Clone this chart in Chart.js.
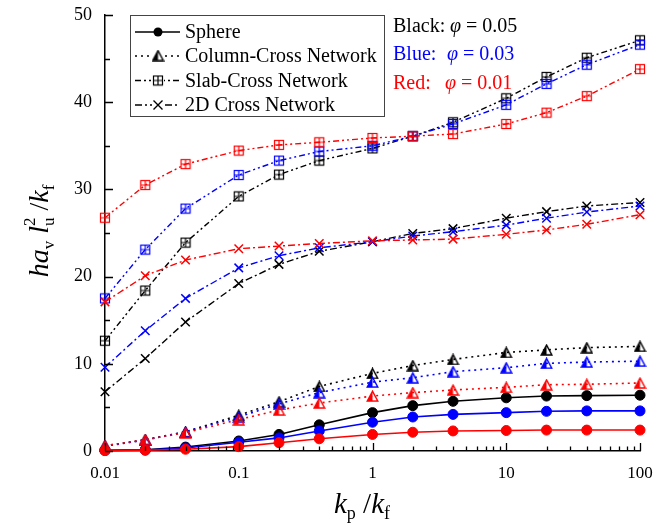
<!DOCTYPE html>
<html>
<head>
<meta charset="utf-8">
<script src="https://cdn.jsdelivr.net/npm/chart.js@4.4.1/dist/chart.umd.min.js"></script>
<style>
  body { margin: 0; background: #fff; }
  #wrap { width: 670px; height: 526px; position: relative; }
</style>
</head>
<body>
<div id="wrap"><canvas id="chart"></canvas></div>
<script>
// x values (kp/kf)
const kRatio = [0.01, 0.02, 0.04, 0.1, 0.2, 0.4, 1, 2, 4, 10, 20, 40, 100];

// Sphere
const sphere05 = [0.08, 0.15, 0.45, 1.15, 1.9, 3.0, 4.4, 5.2, 5.7, 6.1, 6.3, 6.35, 6.4];
const sphere03 = [0.06, 0.12, 0.35, 1.0, 1.5, 2.3, 3.3, 3.9, 4.2, 4.4, 4.55, 4.6, 4.6];
const sphere01 = [0.04, 0.08, 0.2, 0.5, 0.95, 1.4, 1.9, 2.15, 2.3, 2.35, 2.4, 2.4, 2.4];
// Column-Cross Network
const column05 = [0.6, 1.3, 2.2, 4.1, 5.65, 7.4, 8.9, 9.8, 10.5, 11.3, 11.6, 11.85, 12.0];
const column03 = [0.55, 1.25, 2.2, 3.9, 5.4, 6.7, 7.9, 8.4, 9.1, 9.55, 10.05, 10.2, 10.3];
const column01 = [0.6, 1.3, 2.1, 3.6, 4.7, 5.5, 6.3, 6.7, 7.0, 7.3, 7.6, 7.65, 7.8];
// Slab-Cross Network
const slab05 = [12.65, 18.4, 23.9, 29.2, 31.7, 33.3, 34.7, 36.1, 37.7, 40.45, 42.9, 45.1, 47.1];
const slab03 = [17.5, 23.1, 27.8, 31.65, 33.3, 34.35, 35.0, 36.1, 37.5, 39.7, 42.1, 44.3, 46.6];
const slab01 = [26.75, 30.5, 32.9, 34.45, 35.1, 35.4, 35.9, 36.1, 36.35, 37.5, 38.8, 40.7, 43.8];
// 2D Cross Network
const cross05 = [6.8, 10.6, 14.8, 19.2, 21.4, 22.9, 24.0, 24.95, 25.5, 26.7, 27.45, 28.1, 28.5];
const cross03 = [9.6, 13.8, 17.5, 21.0, 22.4, 23.3, 24.0, 24.65, 25.15, 25.9, 26.7, 27.4, 28.1];
const cross01 = [17.1, 20.1, 21.9, 23.2, 23.5, 23.8, 24.1, 24.2, 24.3, 24.85, 25.35, 26.0, 27.1];

const xTickLabels = [0.01, 0.1, 1, 10, 100];
const yTickLabels = [0, 10, 20, 30, 40, 50];
const legendNames = ['Sphere', 'Column-Cross Network', 'Slab-Cross Network', '2D Cross Network'];

const BLACK = '#000000', BLUE = '#0000ff', RED = '#ff0000';
const SERIF = '"Liberation Serif", "Times New Roman", serif';

// marker images
function triangleMarker(color) {
  const c = document.createElement('canvas');
  c.width = 13; c.height = 12;
  const g = c.getContext('2d');
  g.fillStyle = color; g.strokeStyle = color; g.lineWidth = 1.4;
  g.beginPath(); g.moveTo(6.5, 1.5); g.lineTo(6.5, 11); g.lineTo(1.2, 11); g.closePath(); g.fill();
  g.beginPath(); g.moveTo(6.5, 1.2); g.lineTo(11.8, 11); g.lineTo(1.2, 11); g.closePath(); g.stroke();
  return c;
}
function gridSquareMarker(color) {
  const c = document.createElement('canvas');
  c.width = 12; c.height = 12;
  const g = c.getContext('2d');
  g.strokeStyle = color; g.lineWidth = 1.2;
  g.strokeRect(1.5, 1.5, 9, 9);
  g.beginPath(); g.moveTo(6, 1.5); g.lineTo(6, 10.5); g.moveTo(1.5, 6); g.lineTo(10.5, 6); g.stroke();
  return c;
}

const DASH_COL = [2, 4];
const DASH_SLAB = [6, 3, 2, 3, 2, 3];
const DASH_2D = [7, 3, 2, 3];

function pts(arr) { return kRatio.map((k, i) => ({ x: k, y: arr[i] })); }

function sphereSet(arr, color) {
  return { data: pts(arr), borderColor: color, backgroundColor: color, borderWidth: 1.6,
    pointStyle: 'circle', pointRadius: 5, pointBorderWidth: 1, pointBackgroundColor: color, pointBorderColor: color };
}
function columnSet(arr, color) {
  return { data: pts(arr), borderColor: color, borderWidth: 1.6, borderDash: DASH_COL,
    pointStyle: triangleMarker(color), pointRadius: 6 };
}
function slabSet(arr, color) {
  return { data: pts(arr), borderColor: color, borderWidth: 1.4, borderDash: DASH_SLAB,
    pointStyle: gridSquareMarker(color), pointRadius: 6 };
}
function crossSet(arr, color) {
  return { data: pts(arr), borderColor: color, borderWidth: 1.4, borderDash: DASH_2D,
    pointStyle: 'crossRot', pointRadius: 6, pointBorderWidth: 1.5, pointBorderColor: color };
}

// draw text runs: [text, kind] kind: 'i' italic, 'r' roman, 'sub', 'ss' (sub|sup stacked)
function drawRuns(ctx, runs, x, y, size) {
  let cx = x;
  const subSize = Math.round(size * 0.62);
  runs.forEach(([t, kind]) => {
    if (kind === 'i' || kind === 'r') {
      ctx.font = (kind === 'i' ? 'italic ' : '') + size + 'px ' + SERIF;
      ctx.fillText(t, cx, y);
      cx += ctx.measureText(t).width;
    } else if (kind === 'sub') {
      ctx.font = subSize + 'px ' + SERIF;
      ctx.fillText(t, cx, y + size * 0.22);
      cx += ctx.measureText(t).width;
    } else if (kind === 'ss') {
      const [sb, sp] = t.split('|');
      ctx.font = subSize + 'px ' + SERIF;
      ctx.fillText(sb, cx, y + size * 0.22);
      ctx.fillText(sp, cx, y - size * 0.45);
      cx += Math.max(ctx.measureText(sb).width, ctx.measureText(sp).width);
    }
  });
  return cx - x;
}
function runsWidth(ctx, runs, size) {
  ctx.save();
  ctx.globalAlpha = 0;
  const w = drawRuns(ctx, runs, 0, 0, size);
  ctx.restore();
  return w;
}

const decorPlugin = {
  id: 'decor',
  afterDraw(chart) {
    const ctx = chart.ctx;
    const xs = chart.scales.x, ys = chart.scales.y;
    const area = chart.chartArea;
    ctx.save();
    ctx.strokeStyle = '#000'; ctx.lineWidth = 1.3; ctx.setLineDash([]);
    // x ticks (inward)
    ctx.beginPath();
    xTickLabels.forEach((d, i) => {
      const px = Math.round(xs.getPixelForValue(d)) + 0.5;
      ctx.moveTo(px, area.bottom); ctx.lineTo(px, area.bottom - 8);
      if (i < xTickLabels.length - 1) {
        for (let m = 2; m <= 9; m++) {
          const mx = Math.round(xs.getPixelForValue(d * m)) + 0.5;
          ctx.moveTo(mx, area.bottom); ctx.lineTo(mx, area.bottom - 4.5);
        }
      }
    });
    // y ticks (inward)
    for (let v = 0; v <= 50; v += 5) {
      const py = Math.round(ys.getPixelForValue(v)) + 0.5;
      ctx.moveTo(area.left, py); ctx.lineTo(area.left + (v % 10 === 0 ? 8 : 5), py);
    }
    ctx.stroke();

    // axis titles
    ctx.fillStyle = '#000';
    ctx.textBaseline = 'alphabetic';
    ctx.textAlign = 'left';
    const xTitle = [['k', 'i'], ['p', 'sub'], [' /', 'r'], ['k', 'i'], ['f', 'sub']];
    const xw = runsWidth(ctx, xTitle, 29);
    drawRuns(ctx, xTitle, 362 - xw / 2, 513, 29);

    const yTitle = [['h', 'i'], ['a', 'i'], ['v', 'sub'], [' l', 'i'], ['u|2', 'ss'], [' /', 'r'], ['k', 'i'], ['f', 'sub']];
    const yw = runsWidth(ctx, yTitle, 28);
    ctx.save();
    ctx.translate(48, 231);
    ctx.rotate(-Math.PI / 2);
    drawRuns(ctx, yTitle, -yw / 2, 0, 28);
    ctx.restore();

    // legend box
    ctx.strokeStyle = '#444'; ctx.lineWidth = 1;
    ctx.strokeRect(130.5, 15.5, 254, 101);
    const rows = [32, 56, 80.5, 105];
    const dashes = [[], DASH_COL, DASH_SLAB, DASH_2D];
    rows.forEach((ry, i) => {
      ctx.strokeStyle = '#000'; ctx.lineWidth = 1.4;
      ctx.setLineDash(dashes[i]);
      ctx.beginPath(); ctx.moveTo(135, ry); ctx.lineTo(180, ry); ctx.stroke();
      ctx.setLineDash([]);
      if (i === 0) {
        ctx.fillStyle = '#000';
        ctx.beginPath(); ctx.arc(158, ry, 4.5, 0, Math.PI * 2); ctx.fill();
      } else if (i === 1) {
        const m = triangleMarker('#000');
        ctx.fillStyle = '#fff'; ctx.fillRect(152, ry - 6, 13, 12);
        ctx.drawImage(m, 151.5, ry - 6.5);
      } else if (i === 2) {
        const m = gridSquareMarker('#000');
        ctx.fillStyle = '#fff'; ctx.fillRect(152, ry - 6, 12, 12);
        ctx.drawImage(m, 152, ry - 6);
      } else {
        ctx.fillStyle = '#fff'; ctx.fillRect(152, ry - 6, 12, 12);
        ctx.beginPath();
        ctx.moveTo(153.5, ry - 4.5); ctx.lineTo(162.5, ry + 4.5);
        ctx.moveTo(162.5, ry - 4.5); ctx.lineTo(153.5, ry + 4.5);
        ctx.stroke();
      }
      ctx.fillStyle = '#000';
      ctx.font = '20px ' + SERIF;
      ctx.textBaseline = 'middle';
      ctx.fillText(legendNames[i], 185, ry + 1);
    });

    // phi annotations
    ctx.textBaseline = 'alphabetic';
    const notes = [['Black:', '0.05', BLACK, 32, 450], ['Blue:', '0.03', BLUE, 60, 447], ['Red:', '0.01', RED, 89, 445]];
    notes.forEach(([name, val, col, by, phiX]) => {
      ctx.fillStyle = col;
      ctx.font = '20px ' + SERIF;
      ctx.fillText(name, 393, by);
      ctx.font = 'italic 20px ' + SERIF;
      ctx.fillText('\u03C6', phiX, by);
      const pw = ctx.measureText('\u03C6').width;
      ctx.font = '20px ' + SERIF;
      ctx.fillText(' = ' + val, phiX + pw, by);
    });
    ctx.restore();
  }
};

new Chart(document.getElementById('chart'), {
  type: 'line',
  data: {
    datasets: [
      sphereSet(sphere01, RED), columnSet(column01, RED), slabSet(slab01, RED), crossSet(cross01, RED),
      sphereSet(sphere03, BLUE), columnSet(column03, BLUE), slabSet(slab03, BLUE), crossSet(cross03, BLUE),
      sphereSet(sphere05, BLACK), columnSet(column05, BLACK), slabSet(slab05, BLACK), crossSet(cross05, BLACK)
    ]
  },
  options: {
    responsive: true,
    maintainAspectRatio: false,
    animation: false,
    clip: false,
    layout: { padding: { left: 0, top: 15, right: 30, bottom: 0 } },
    plugins: { legend: { display: false }, tooltip: { enabled: false } },
    scales: {
      x: {
        type: 'logarithmic',
        min: 0.01,
        max: 100,
        afterBuildTicks: axis => { axis.ticks = xTickLabels.map(v => ({ value: v })); },
        afterFit: scale => { scale.height = 75; scale.paddingLeft = 0; scale.paddingRight = 0; },
        grid: { display: false, drawTicks: false },
        border: { display: true, color: '#000', width: 1.5 },
        ticks: {
          autoSkip: false, maxRotation: 0, padding: 12, color: '#000',
          font: { family: SERIF, size: 17 },
          callback: v => String(v)
        }
      },
      y: {
        min: 0,
        max: 50,
        afterBuildTicks: axis => { axis.ticks = yTickLabels.map(v => ({ value: v })); },
        afterFit: scale => { scale.width = 105; scale.paddingTop = 0; scale.paddingBottom = 0; },
        grid: { display: false, drawTicks: false },
        border: { display: true, color: '#000', width: 1.5 },
        ticks: {
          padding: 13, color: '#000',
          font: { family: SERIF, size: 18 }
        }
      }
    }
  },
  plugins: [decorPlugin]
});
</script>
</body>
</html>
